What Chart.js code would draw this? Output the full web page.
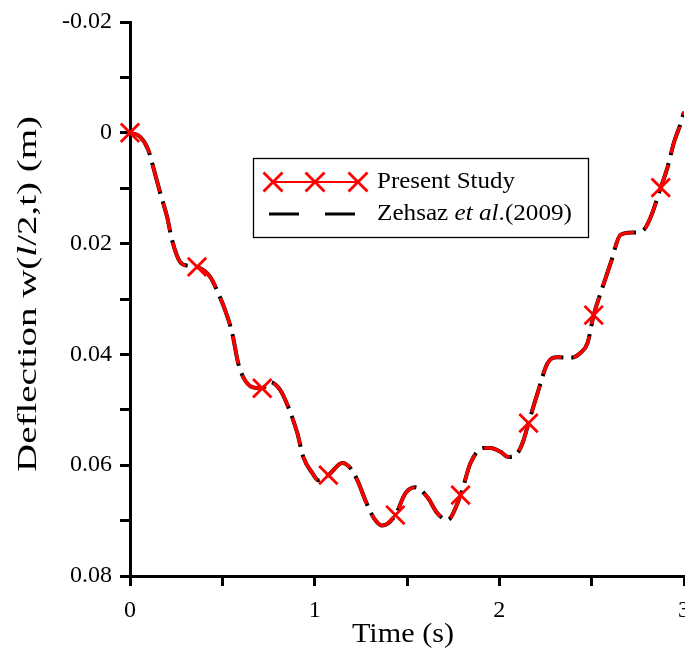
<!DOCTYPE html>
<html>
<head>
<meta charset="utf-8">
<script src="https://cdn.jsdelivr.net/npm/chart.js@4.4.1/dist/chart.umd.min.js"></script>
<style>
  body { margin: 0; background: #fff; }
  canvas { display: block; }
</style>
</head>
<body>
<canvas id="deflChart" width="685" height="654"></canvas>
<script>
/* ---------- data ---------- */
const time = [0, 0.054, 0.098, 0.125, 0.163, 0.201, 0.228, 0.271, 0.315, 0.363,
  0.434, 0.477, 0.515, 0.553, 0.586, 0.613, 0.662, 0.716, 0.759, 0.813,
  0.857, 0.906, 0.938, 0.987, 1.020, 1.074, 1.150, 1.193, 1.231, 1.274,
  1.318, 1.367, 1.437, 1.491, 1.545, 1.611, 1.665, 1.719, 1.790, 1.844,
  1.914, 1.952, 2.007, 2.050, 2.099, 2.131, 2.158, 2.207, 2.261, 2.316,
  2.386, 2.440, 2.478, 2.511, 2.549, 2.603, 2.657, 2.728, 2.782, 2.820,
  2.874, 2.912, 2.945, 2.983, 3.0];

const zehsaz = [0, 0.0007, 0.0030, 0.0061, 0.0108, 0.0152, 0.0194, 0.0233, 0.0240, 0.0242,
  0.0260, 0.0289, 0.0320, 0.0361, 0.0416, 0.0441, 0.0459, 0.0461, 0.0450, 0.0464,
  0.0495, 0.0542, 0.0585, 0.0614, 0.0627, 0.0618, 0.0596, 0.0605, 0.0627, 0.0663,
  0.0694, 0.0709, 0.0690, 0.0651, 0.0640, 0.0658, 0.0687, 0.0699, 0.0654, 0.0596,
  0.0569, 0.0569, 0.0576, 0.0585, 0.0578, 0.0555, 0.0524, 0.0470, 0.0416, 0.0405,
  0.0406, 0.0397, 0.0379, 0.0329, 0.0289, 0.0235, 0.0184, 0.0180, 0.0175, 0.0152,
  0.0099, 0.0061, 0.0018, -0.0018, -0.0038];

// present study follows the same curve
const present = zehsaz.slice();

const markerTime = [0, 0.363, 0.716, 1.074, 1.437, 1.790, 2.158, 2.511, 2.874];
const markerDefl = [0, 0.0242, 0.0461, 0.0618, 0.0690, 0.0654, 0.0524, 0.0329, 0.0099];

const legendLabels = ["Present Study", "Zehsaz et al.(2009)"];

const SERIF = "'Liberation Serif', 'Times New Roman', serif";

/* ---------- helpers ---------- */
function toPoints(xs, ys) {
  return xs.map((x, i) => ({ x: x, y: ys[i] }));
}

// draws a list of text runs [{text, italic}] stretched to a given width
function drawRuns(ctx, runs, size, x, y, targetW, align) {
  let total = 0;
  runs.forEach(r => {
    ctx.font = (r.italic ? "italic " : "") + size + "px " + SERIF;
    r.w = ctx.measureText(r.text).width;
    total += r.w;
  });
  const k = targetW ? targetW / total : 1;
  ctx.save();
  ctx.translate(x, y);
  ctx.scale(k, 1);
  let cx = align === "center" ? -total / 2 : 0;
  ctx.fillStyle = "#000";
  ctx.textBaseline = "middle";
  ctx.textAlign = "left";
  runs.forEach(r => {
    ctx.font = (r.italic ? "italic " : "") + size + "px " + SERIF;
    ctx.fillText(r.text, cx, 0);
    cx += r.w;
  });
  ctx.restore();
}

function drawCross(ctx, x, y, r) {
  ctx.beginPath();
  ctx.moveTo(x - r, y - r); ctx.lineTo(x + r, y + r);
  ctx.moveTo(x + r, y - r); ctx.lineTo(x - r, y + r);
  ctx.stroke();
}

/* ---------- titles + legend ---------- */
const decorPlugin = {
  id: "decor",
  afterDraw(chart) {
    const ctx = chart.ctx;

    // y title (rotated)
    ctx.save();
    ctx.translate(29, 294);
    ctx.rotate(-Math.PI / 2);
    drawRuns(ctx, [
      { text: "Deflection w(" }, { text: "l", italic: true }, { text: "/2,t) (m)" }
    ], 28, 0, 0, 356, "center");
    ctx.restore();

    // x title
    drawRuns(ctx, [{ text: "Time (s)" }], 27, 403, 635, 102, "center");

    // legend box
    ctx.save();
    ctx.fillStyle = "#fff";
    ctx.fillRect(253, 158, 336, 80);
    ctx.strokeStyle = "#000";
    ctx.lineWidth = 1.3;
    ctx.strokeRect(253.5, 158.5, 335, 79);

    // present study sample
    ctx.strokeStyle = "#ff0000";
    ctx.lineWidth = 2.2;
    ctx.beginPath();
    ctx.moveTo(273, 182); ctx.lineTo(358, 182);
    ctx.stroke();
    ctx.lineWidth = 2.8;
    [273, 315, 358].forEach(px => drawCross(ctx, px, 182, 9.5));

    // zehsaz sample
    ctx.strokeStyle = "#000";
    ctx.lineWidth = 3;
    ctx.beginPath();
    ctx.moveTo(269, 214); ctx.lineTo(299, 214);
    ctx.moveTo(325, 214); ctx.lineTo(355, 214);
    ctx.stroke();
    ctx.restore();

    drawRuns(ctx, [{ text: legendLabels[0] }], 24, 377, 182, 138, "left");
    drawRuns(ctx, [
      { text: "Zehsaz " }, { text: "et al", italic: true }, { text: ".(2009)" }
    ], 24, 377, 214, 195, "left");
  }
};

/* ---------- chart ---------- */
new Chart(document.getElementById("deflChart"), {
  type: "line",
  data: {
    datasets: [
      {
        label: legendLabels[0] + " markers",
        data: toPoints(markerTime, markerDefl),
        showLine: false,
        pointStyle: "crossRot",
        pointRadius: 13,
        pointBorderWidth: 2.8,
        pointBorderColor: "#ff0000",
        pointBackgroundColor: "#ff0000",
        clip: false,
        order: 0
      },
      {
        label: legendLabels[0],
        data: toPoints(time, present),
        borderColor: "#ff0000",
        borderWidth: 3.4,
        borderDash: [28, 12],
        borderDashOffset: -2,
        pointRadius: 0,
        cubicInterpolationMode: "monotone",
        order: 1
      },
      {
        label: legendLabels[1],
        data: toPoints(time, zehsaz),
        borderColor: "#000",
        borderWidth: 4,
        borderDash: [32, 8],
        pointRadius: 0,
        cubicInterpolationMode: "monotone",
        order: 2
      }
    ]
  },
  options: {
    responsive: false,
    animation: false,
    layout: { autoPadding: false, padding: { top: 22, right: 1, left: 0, bottom: 0 } },
    plugins: {
      legend: { display: false },
      tooltip: { enabled: false }
    },
    scales: {
      x: {
        type: "linear",
        min: 0,
        max: 3,
        border: { color: "#000", width: 3 },
        grid: { drawOnChartArea: false, color: "#000", lineWidth: 3, tickLength: 10 },
        ticks: {
          stepSize: 0.5,
          color: "#000",
          padding: 10,
          maxRotation: 0,
          autoSkip: false,
          font: { family: SERIF, size: 24 },
          callback: v => (Math.abs(v - Math.round(v)) < 1e-6 ? String(Math.round(v)) : "")
        },
        afterFit(scale) {
          scale.height = 78;
          scale.paddingLeft = 0;
          scale.paddingRight = 0;
        }
      },
      y: {
        type: "linear",
        reverse: true,
        min: -0.02,
        max: 0.08,
        border: { color: "#000", width: 3 },
        grid: { drawOnChartArea: false, color: "#000", lineWidth: 3, tickLength: 10 },
        ticks: {
          stepSize: 0.01,
          color: "#000",
          padding: 8,
          autoSkip: false,
          font: { family: SERIF, size: 24 },
          callback: v => {
            const n = Math.round(v * 100);
            if (n % 2 !== 0) return "";
            if (n === 0) return "0";
            return (n / 100).toFixed(2);
          }
        },
        afterFit(scale) {
          scale.width = 130;
          scale.paddingTop = 0;
          scale.paddingBottom = 0;
        }
      }
    }
  },
  plugins: [decorPlugin]
});
</script>
</body>
</html>
